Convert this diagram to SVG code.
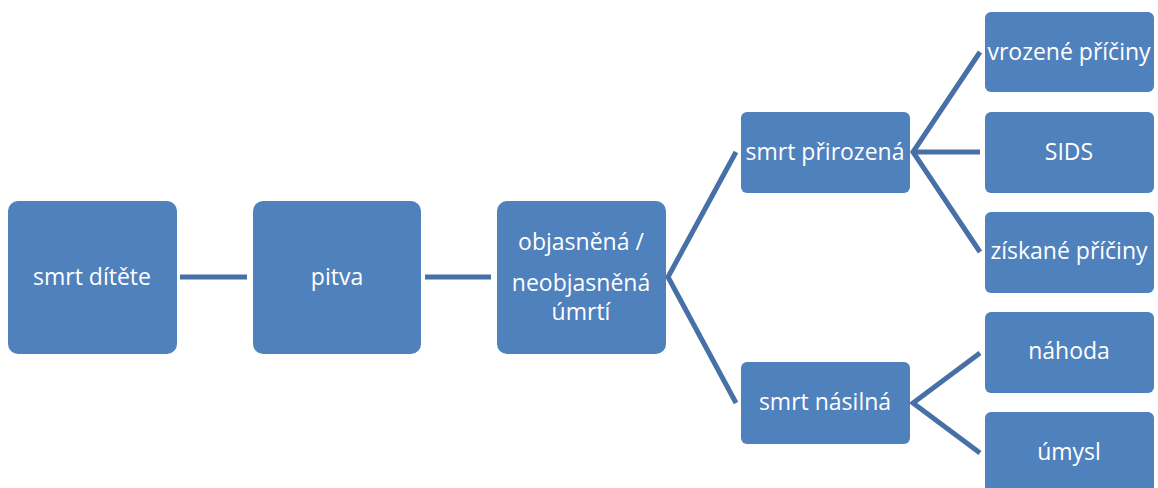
<svg xmlns="http://www.w3.org/2000/svg" width="1158" height="488" viewBox="0 0 1158 488">
<style>
.box{fill:#4F81BD;}
.t{fill:#ffffff;font-family:"Open Sans","Liberation Sans",sans-serif;font-size:23px;text-anchor:middle;}
.c{fill:none;stroke:#4670A6;stroke-width:5;stroke-linejoin:miter;}
</style>
<rect width="1158" height="488" fill="#ffffff"/>
<g id="connectors">
<line class="c" x1="180" y1="277" x2="247" y2="277"/>
<line class="c" x1="425" y1="277" x2="491" y2="277"/>
<polyline class="c" points="736,152 668,277 736,403"/>
<polyline class="c" points="980,52 913,152 980,252"/>
<line class="c" x1="913" y1="152" x2="980" y2="152"/>
<polyline class="c" points="980,353 913,403 980,453"/>
</g>
<g id="n1"><rect class="box" x="8" y="201" width="169" height="153" rx="10"/><text class="t" x="92" y="285">smrt dítěte</text></g>
<g id="n2"><rect class="box" x="253" y="201" width="168" height="153" rx="10"/><text class="t" x="337" y="285">pitva</text></g>
<g id="n3"><rect class="box" x="497" y="201" width="169" height="153" rx="10"/><text class="t" x="581" y="250">objasněná /</text><text class="t" x="581" y="291">neobjasněná</text><text class="t" x="581" y="320">úmrtí</text></g>
<g id="n4"><rect class="box" x="741" y="112" width="169" height="81" rx="6"/><text class="t" x="825" y="160">smrt přirozená</text></g>
<g id="n5"><rect class="box" x="741" y="362" width="169" height="82" rx="6"/><text class="t" x="825" y="410">smrt násilná</text></g>
<g id="n6"><rect class="box" x="985" y="12" width="169" height="80" rx="6"/><text class="t" x="1069" y="60">vrozené příčiny</text></g>
<g id="n7"><rect class="box" x="985" y="112" width="169" height="81" rx="6"/><text class="t" x="1069" y="160">SIDS</text></g>
<g id="n8"><rect class="box" x="985" y="212" width="169" height="81" rx="6"/><text class="t" x="1069" y="259">získané příčiny</text></g>
<g id="n9"><rect class="box" x="985" y="312" width="169" height="81" rx="6"/><text class="t" x="1069" y="359">náhoda</text></g>
<g id="n10"><rect class="box" x="985" y="412" width="169" height="81" rx="6"/><text class="t" x="1069" y="460">úmysl</text></g>
</svg>
